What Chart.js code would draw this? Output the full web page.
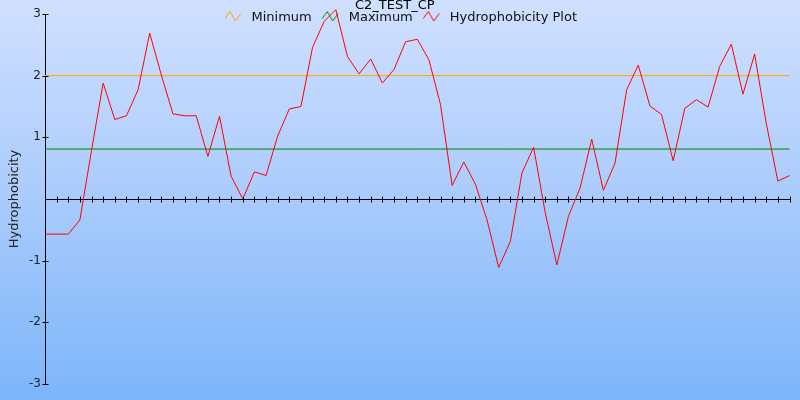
<!DOCTYPE html>
<html>
<head>
<meta charset="utf-8">
<script src="https://cdn.jsdelivr.net/npm/chart.js@4/dist/chart.umd.min.js"></script>
<style>
html, body { margin: 0; padding: 0; }
#wrap { width: 800px; height: 400px; position: relative;
  background: linear-gradient(to bottom, #d0e0fe 0%, #a9cbfc 50%, #7db5fa 100%); }
canvas { display: block; }
</style>
</head>
<body>
<div id="wrap"><canvas id="c" width="800" height="400"></canvas></div>
<script>
// ---- data ----
const chartTitle = 'C2_TEST_CP';
const positions = [1,2,3,4,5,6,7,8,9,10,11,12,13,14,15,16,17,18,19,20,21,22,23,24,25,26,27,28,29,30,31,32,33,34,35,36,37,38,39,40,41,42,43,44,45,46,47,48,49,50,51,52,53,54,55,56,57,58,59,60,61,62,63,64,65];
const hydrophobicity = [-0.57,-0.57,-0.57,-0.34,0.79,1.88,1.29,1.35,1.77,2.69,2.01,1.38,1.35,1.35,0.69,1.34,0.37,0.00,0.44,0.38,1.02,1.46,1.50,2.46,2.88,3.07,2.31,2.03,2.27,1.88,2.10,2.55,2.59,2.26,1.53,0.22,0.60,0.24,-0.34,-1.11,-0.69,0.42,0.84,-0.22,-1.07,-0.28,0.18,0.97,0.14,0.58,1.77,2.17,1.51,1.37,0.62,1.47,1.61,1.49,2.15,2.51,1.70,2.35,1.23,0.29,0.38];
const minimumValues = [2.0, 2.0];     // at first and last position
const maximumValues = [0.81, 0.81];   // at first and last position
const yTickValues = [3, 2, 1, -1, -2, -3];
const seriesNames = ['Minimum', 'Maximum', 'Hydrophobicity Plot'];
const seriesColors = ['#ffa500', '#008000', '#ff0000'];

// ---- legend zigzag icons ----
function zigzagIcon(color) {
  const cv = document.createElement('canvas');
  cv.width = 18; cv.height = 14;
  const g = cv.getContext('2d');
  g.strokeStyle = color; g.lineWidth = 1;
  g.beginPath();
  g.moveTo(1, 7.5); g.lineTo(6, 0.5); g.lineTo(11.5, 10); g.lineTo(17, 2.5);
  g.stroke();
  return cv;
}

const ends = [positions[0], positions[positions.length - 1]];
const FONT = 'DejaVu Sans';

const axisTicks = {
  id: 'axisTicks',
  afterDraw(chart) {
    const {ctx, scales: {x, y}} = chart;
    const y0 = Math.round(y.getPixelForValue(0)) + 0.5;
    const x0 = Math.round(x.left) + 0.5;
    ctx.save();
    ctx.strokeStyle = '#000';
    ctx.lineWidth = 1;
    ctx.beginPath();
    positions.forEach((p, i) => {
      const px = Math.round(x.getPixelForValue(i)) + 0.5;
      ctx.moveTo(px, y0 - 3); ctx.lineTo(px, y0 + 3);
    });
    yTickValues.forEach(v => {
      const py = Math.round(y.getPixelForValue(v)) + 0.5;
      ctx.moveTo(x0 - 3, py); ctx.lineTo(x0 + 3, py);
    });
    ctx.stroke();
    ctx.restore();
  }
};

// legend overlaps the plot (as in the reference): it takes no layout height
const legendPlace = {
  id: 'legendPlace',
  afterInit(chart) {
    const l = chart.legend;
    if (!l) return;
    const origFit = l.fit;
    l.fit = function () {
      origFit.call(this);
      this._realHeight = this.height;
      this.height = 0;
    };
  },
  beforeDraw(chart) {
    const l = chart.legend;
    if (!l) return;
    const h = l._realHeight || 26;
    l.left = 0; l.right = 798; l.width = 798;
    l.top = 5; l.height = h; l.bottom = 5 + h;
  }
};

new Chart(document.getElementById('c'), {
  type: 'line',
  data: {
    labels: positions,
    datasets: [
      { label: seriesNames[0], data: [{x: ends[0], y: minimumValues[0]}, {x: ends[1], y: minimumValues[1]}],
        borderColor: seriesColors[0], borderWidth: 1, pointRadius: 0, pointStyle: zigzagIcon(seriesColors[0]), order: 2 },
      { label: seriesNames[1], data: [{x: ends[0], y: maximumValues[0]}, {x: ends[1], y: maximumValues[1]}],
        borderColor: seriesColors[1], borderWidth: 1, pointRadius: 0, pointStyle: zigzagIcon(seriesColors[1]), order: 1 },
      { label: seriesNames[2], data: hydrophobicity,
        borderColor: seriesColors[2], borderWidth: 1, pointRadius: 0, pointStyle: zigzagIcon(seriesColors[2]), order: 0, clip: false }
    ]
  },
  options: {
    responsive: false,
    animation: false,
    devicePixelRatio: 1,
    tension: 0,
    layout: { padding: { top: 0, bottom: 16, left: 0, right: 10.5 } },
    plugins: {
      tooltip: { enabled: false },
      title: { display: true, text: chartTitle, color: '#000',
        font: { family: FONT, size: 13, weight: 'normal', lineHeight: 1 },
        padding: { top: -1, bottom: 2 } },
      legend: {
        position: 'top', align: 'center',
        labels: { usePointStyle: true, pointStyleWidth: 24, padding: 6.5, color: '#111',
          font: { family: FONT, size: 13 },
          sort: (a, b) => a.datasetIndex - b.datasetIndex }
      }
    },
    scales: {
      x: {
        type: 'category', position: { y: 0 }, offset: false,
        ticks: { display: false },
        grid: { display: true, drawOnChartArea: false, drawTicks: false },
        border: { display: true, color: '#000', width: 1 }
      },
      y: {
        position: 'left', min: -3, max: 3,
        afterFit(s) { s.width = 45; },
        afterBuildTicks(s) { s.ticks = yTickValues.map(v => ({ value: v })); },
        ticks: { padding: 4, color: '#222', font: { family: FONT, size: 12 },
          callback: v => (v === 0 ? '' : String(v)) },
        grid: { display: true, drawOnChartArea: false, drawTicks: false },
        border: { display: true, color: '#000', width: 1 },
        title: { display: true, text: 'Hydrophobicity', color: '#222',
          font: { family: FONT, size: 13 }, padding: { top: 7, bottom: 0 } }
      }
    }
  },
  plugins: [axisTicks, legendPlace]
});
</script>
</body>
</html>
